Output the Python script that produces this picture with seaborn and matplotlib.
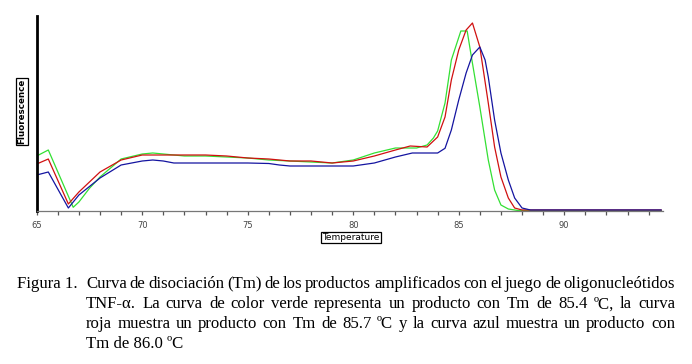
import numpy as np
import pandas as pd
import matplotlib
matplotlib.use("Agg")
import matplotlib.pyplot as plt
import seaborn as sns
from matplotlib.font_manager import FontProperties

# ---------------- data ----------------
T_green = [65.0, 65.55, 66.73, 67.0, 67.5, 68.0, 69.0, 70.0, 70.5, 71, 72, 73, 74, 75, 76, 77, 78,
           79, 80, 81, 82, 83, 83.5, 83.8, 84.0, 84.35, 84.65, 85.1, 85.4, 85.6, 86.0, 86.4, 86.7,
           87.0, 87.35, 87.8, 94.6]
F_green = [55, 61, 3.7, 9, 22.7, 34, 52, 57, 58, 57, 55, 55, 54, 53, 51, 50, 49,
           48, 51, 58, 63, 63, 66, 73, 80, 108, 151, 180, 180, 154, 104, 51, 21,
           6, 2, 0.5, 0.5]

T_red = [65, 65.55, 66.5, 67, 68, 69, 70, 71, 72, 73, 74, 75, 76, 77, 78, 79, 80, 81, 82, 82.7,
         83.5, 84, 84.35, 84.65, 85, 85.35, 85.65, 86, 86.4, 86.7, 87, 87.35, 87.65, 88, 94.6]
F_red = [47, 52, 7, 19, 39, 51, 56, 56, 56, 56, 55, 53, 52, 50, 50, 48, 50, 55, 61, 65,
         64, 74, 94, 131, 161, 181, 188, 164, 108, 64, 34, 13, 3, 1, 1]

T_blue = [65, 65.55, 66.5, 67, 68, 69, 70, 70.5, 71, 71.5, 72, 75, 76, 76.5, 77, 79.5, 80, 81, 82,
          82.8, 84, 84.35, 84.65, 85, 85.35, 85.65, 86, 86.25, 86.4, 86.7, 87, 87.35, 87.65, 88,
          88.4, 94.6]
F_blue = [36, 39, 3, 16, 33, 46, 50, 51, 50, 48, 48, 48, 47.5, 46, 45, 45, 45, 48, 54,
          58, 58, 62.7, 81, 111, 138, 156, 164, 151, 134, 91, 58, 31, 13, 3,
          1, 1]

# faint baseline traces (magenta / cyan) visible after 88 °C
T_base = [88.0, 94.6]
F_magenta = [1.3, 1.3]
F_cyan = [0.8, 0.8]

x_ticks = list(range(65, 95))
x_labels = [str(t) if t % 5 == 0 else "" for t in x_ticks]

caption_lead = "Figura 1."
caption_lines = [
    "Curva de disociación (Tm) de los productos amplificados con el juego de oligonucleótidos",
    "TNF-α. La curva de color verde representa un producto con Tm de 85.4 ºC, la curva",
    "roja muestra un producto con Tm de 85.7 ºC y la curva azul muestra un producto con",
    "Tm de 86.0 ºC",
]

colors = {"cyan": "#38b8c8", "magenta": "#b0208f", "green": "#33e033",
          "red": "#d01010", "blue": "#1414a0"}

frames = []
for name, T, F in [("cyan", T_base, F_cyan), ("magenta", T_base, F_magenta),
                   ("green", T_green, F_green), ("red", T_red, F_red),
                   ("blue", T_blue, F_blue)]:
    frames.append(pd.DataFrame({"T": T, "F": F, "curve": name}))
df = pd.concat(frames, ignore_index=True)

# ---------------- figure ----------------
sns.set_style("white")
plt.rcParams["font.family"] = ["DejaVu Sans"]
W, H = 692, 364
fig = plt.figure(figsize=(W / 100, H / 100), dpi=100)
ax = fig.add_axes([36.7 / W, 1 - 211 / H, (663 - 36.7) / W, (211 - 16) / H])

sns.lineplot(data=df, x="T", y="F", hue="curve", palette=colors, estimator=None,
             sort=False, legend=False, linewidth=0.9, ax=ax)

ax.set_xlim(65, 94.68)
ax.set_ylim(0, 195)
ax.set_xlabel("")
ax.set_ylabel("")
ax.set_yticks([])
ax.set_xticks(x_ticks)
ax.set_xticklabels(x_labels)
ax.tick_params(axis="x", direction="out", length=3.2, width=0.9, color="#555555",
               labelsize=6, labelcolor="#444444", pad=4, bottom=True)
for s in ["top", "right"]:
    ax.spines[s].set_visible(False)
ax.spines["left"].set_color("black")
ax.spines["left"].set_linewidth(2.0)
ax.spines["bottom"].set_color("#777777")
ax.spines["bottom"].set_linewidth(0.9)

# boxed axis titles
fig.text(22 / W, 1 - 111.5 / H, "Fluorescence", rotation=90, ha="center", va="center",
         fontsize=6.3, fontweight="bold", color="black",
         bbox=dict(boxstyle="square,pad=0.15", fc="white", ec="black", lw=0.9))
fig.text(351 / W, 1 - 237.5 / H, "Temperature", ha="center", va="center",
         fontsize=6.5, color="black",
         bbox=dict(boxstyle="square,pad=0.15", fc="white", ec="black", lw=0.9))

# ---------------- caption (justified) ----------------
fig.canvas.draw()
r = fig.canvas.get_renderer()
left_x, right_x = 86.0, 675.0
avail = right_x - left_x
fs0 = 10.0


def wid(s, fp):
    return r.get_text_width_height_descent(s, fp, ismath=False)[0]

fp0 = FontProperties(family="Liberation Serif", size=fs0)
# choose the font size so that the tightest justified line is filled with small spaces
scales = []
for line in caption_lines[:3]:
    words = line.split(" ")
    natural = sum(wid(w, fp0) for w in words) + (len(words) - 1) * 0.17 * fs0 * 100 / 72
    scales.append(avail / natural)
fs = fs0 * min(scales)
fp = FontProperties(family="Liberation Serif", size=fs)

baselines = [288.5, 308.5, 328.5, 348.5]
fig.text(16.7 / W, 1 - baselines[0] / H, caption_lead, fontproperties=fp,
         ha="left", va="baseline", color="black")
for i, line in enumerate(caption_lines):
    yb = 1 - baselines[i] / H
    if i < 3:
        words = line.split(" ")
        ws = [wid(w, fp) for w in words]
        gap = (avail - sum(ws)) / (len(words) - 1)
        x = left_x
        for w, wd in zip(words, ws):
            fig.text(x / W, yb, w, fontproperties=fp, ha="left", va="baseline", color="black")
            x += wd + gap
    else:
        fig.text(left_x / W, yb, line, fontproperties=fp, ha="left", va="baseline",
                 color="black")

fig.savefig("out.png", dpi=100)
